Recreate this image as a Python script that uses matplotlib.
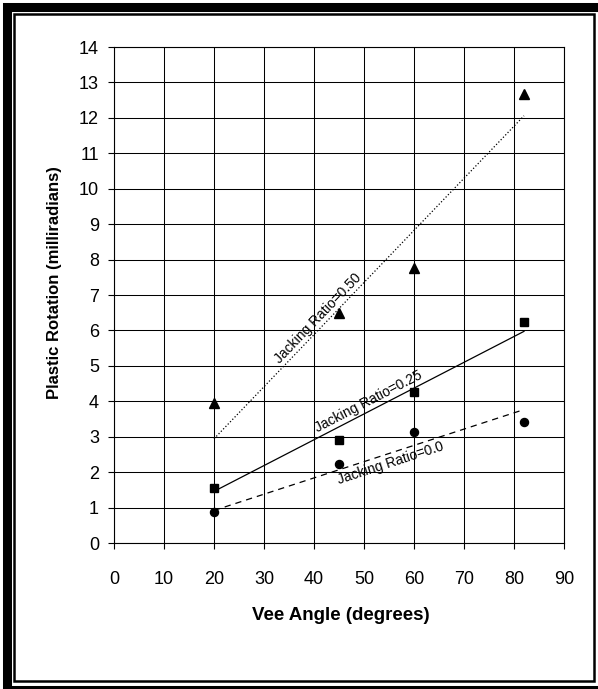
import numpy as np
import matplotlib
matplotlib.use('Agg')
import matplotlib.pyplot as plt
from matplotlib.patches import Rectangle

# Data
vee_angle = [20, 45, 60, 82]
rot_jr050 = [3.96, 6.50, 7.75, 12.66]   # triangles
rot_jr025 = [1.54, 2.90, 4.25, 6.25]    # squares
rot_jr000 = [0.87, 2.22, 3.13, 3.42]    # circles

series_labels = ['Jacking Ratio=0.50', 'Jacking Ratio=0.25', 'Jacking Ratio=0.0']
x_ticks = list(range(0, 91, 10))
y_ticks = list(range(0, 15))

W, H = 598, 689
plt.rcParams['font.family'] = ['Liberation Sans', 'DejaVu Sans']

fig = plt.figure(figsize=(W / 100, H / 100), dpi=100)


def fx(px):
    return px / W


def fy(py):
    return 1 - py / H


ax = fig.add_axes([fx(114), fy(543), fx(564) - fx(114), fy(47) - fy(543)])
ax.set_xlim(0, 90)
ax.set_ylim(0, 14)
ax.set_xticks(x_ticks)
ax.set_yticks(y_ticks)
ax.grid(True, color='black', linewidth=0.75)
ax.set_axisbelow(True)
for sp in ax.spines.values():
    sp.set_color('black')
    sp.set_linewidth(0.8)
ax.tick_params(axis='both', direction='out', length=4.3, width=0.8,
               colors='black', labelsize=13)
ax.tick_params(axis='x', pad=16)
ax.tick_params(axis='y', pad=6.5)

x = np.array(vee_angle, dtype=float)
styles = [(rot_jr050, '^', 7.0, ':'),
          (rot_jr025, 's', 5.5, '-'),
          (rot_jr000, 'o', 5.8, (0, (5, 4)))]

# label centre (x, y) in data units, placed by eye along each trend line
label_pos = [(40.8, 6.35), (51.0, 3.98), (55.4, 2.26)]

for (yv, mk, ms, ls), lab, pos in zip(styles, series_labels, label_pos):
    y = np.array(yv, dtype=float)
    ax.plot(x, y, linestyle='none', marker=mk, markersize=ms,
            color='black', clip_on=False, zorder=4)
    # linear trend line through the origin
    slope = np.sum(x * y) / np.sum(x * x)
    xs = np.array([x.min(), x.max()])
    ax.plot(xs, slope * xs, color='black', linestyle=ls, linewidth=0.9, zorder=3)
    ang = np.degrees(np.arctan(slope))
    ax.text(pos[0], pos[1], lab, fontsize=10, ha='center', va='center',
            rotation=ang, rotation_mode='anchor', transform_rotates_text=True,
            zorder=5)

fig.text(fx(341), fy(615), 'Vee Angle (degrees)', fontsize=13.5,
         fontweight='bold', ha='center', va='center')
fig.text(fx(55), fy(283), 'Plastic Rotation (milliradians)', fontsize=12,
         fontweight='bold', ha='center', va='center', rotation=90)

# double border around the chart area
fig.add_artist(Rectangle((fx(6.5), fy(689.5)), fx(603.5) - fx(6.5), fy(7) - fy(689.5),
                         transform=fig.transFigure, fill=False, edgecolor='black',
                         linewidth=6.5, clip_on=False))
fig.add_artist(Rectangle((fx(14), fy(681)), fx(594) - fx(14), fy(14) - fy(681),
                         transform=fig.transFigure, fill=False, edgecolor='black',
                         linewidth=1.8, clip_on=False))

fig.savefig('out.png', dpi=100)
